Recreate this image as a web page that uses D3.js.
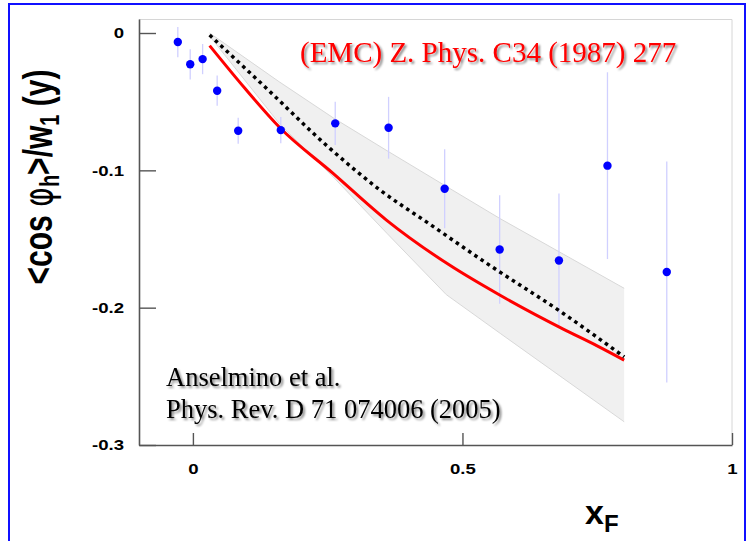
<!DOCTYPE html>
<html>
<head>
<meta charset="utf-8">
<script src="https://cdn.jsdelivr.net/npm/d3@7"></script>
<style>
  body { margin: 0; background: #fff; }
  svg { display: block; }
</style>
</head>
<body>
<svg id="drawing_region"></svg>
<script>
// EMC data points
const xF = [-0.028, -0.005, 0.018, 0.045, 0.084, 0.163, 0.264, 0.363, 0.467, 0.569, 0.679, 0.769, 0.879];
const cosVal = [-0.0066, -0.0228, -0.019, -0.042, -0.0712, -0.0707, -0.0658, -0.069, -0.1134, -0.1576, -0.1656, -0.0966, -0.174];
const cosErr = [0.011, 0.011, 0.011, 0.011, 0.0095, 0.0095, 0.0158, 0.0225, 0.0287, 0.0395, 0.0488, 0.068, 0.0805];

// model curve (red)
const redX = [0.031, 0.096, 0.161, 0.260, 0.359, 0.476, 0.569, 0.687, 0.749, 0.800];
const redY = [-0.0092, -0.0401, -0.0688, -0.1022, -0.1362, -0.1690, -0.1908, -0.2156, -0.2276, -0.2382];

// dotted curve
const dotX = [0.031, 0.130, 0.254, 0.347, 0.439, 0.545, 0.687, 0.800];
const dotY = [-0.0015, -0.0379, -0.0840, -0.1143, -0.1391, -0.1677, -0.2042, -0.2358];

// uncertainty band
const bandX = [0.031, 0.16, 0.26, 0.36, 0.47, 0.57, 0.80];
const bandHi = [0.0, -0.0355, -0.0617, -0.0857, -0.1117, -0.1352, -0.1859];
const bandLo = [-0.0022, -0.0658, -0.1047, -0.1459, -0.1905, -0.2187, -0.2831];

const xTicks = [0, 0.5, 1];
const yTicks = [0, -0.1, -0.2, -0.3];
const yTickLabels = ['0', '-0.1', '-0.2', '-0.3'];
const xTickLabels = ['0', '0.5', '1'];

var config = {
    width: 750,
    height: 541,
    margin: {top:19, right:18, bottom:96, left:139}
};

const svg = d3.select('#drawing_region')
    .attr('width', config.width)
    .attr('height', config.height);

const defs = svg.append('defs');
const shadow = defs.append('filter').attr('id', 'shadow')
    .attr('x', '-5%').attr('y', '-20%').attr('width', '115%').attr('height', '150%');
shadow.append('feDropShadow')
    .attr('dx', 2).attr('dy', 2).attr('stdDeviation', 1.3)
    .attr('flood-color', '#000').attr('flood-opacity', 0.45);

// outer blue frame
svg.append('rect')
    .attr('x', 9).attr('y', 4)
    .attr('width', 736).attr('height', 580)
    .attr('fill', 'none')
    .attr('stroke', '#1010ff')
    .attr('stroke-width', 2);

const inner_width = config.width - config.margin.left - config.margin.right;
const inner_height = config.height - config.margin.top - config.margin.bottom;

const chart = svg.append('g')
    .attr('transform', `translate(${config.margin.left}, ${config.margin.top})`);

const xscale = d3.scaleLinear().domain([-0.1, 1.0]).range([0, inner_width]);
const yscale = d3.scaleLinear().domain([-0.3, 0.0102]).range([inner_height, 0]);

// light frame top/right
chart.append('path')
    .attr('d', `M0,0.5H${inner_width}V${inner_height}`)
    .attr('fill', 'none')
    .attr('stroke', '#d6d6d6')
    .attr('stroke-width', 1);

// band
const band = bandX.map((x, i) => ({x: x, hi: bandHi[i], lo: bandLo[i]}));
chart.append('path')
    .datum(band)
    .attr('fill', '#f0f0f0')
    .attr('d', d3.area().x(d => xscale(d.x)).y0(d => yscale(d.lo)).y1(d => yscale(d.hi)));
['hi', 'lo'].forEach(k => {
    chart.append('path')
        .datum(band)
        .attr('fill', 'none')
        .attr('stroke', '#d8d8d8')
        .attr('stroke-width', 1)
        .attr('d', d3.line().x(d => xscale(d.x)).y(d => yscale(d[k])));
});

const points = xF.map((x, i) => ({x: x, y: cosVal[i], e: cosErr[i]}));

// error bars
chart.selectAll('line.err')
    .data(points)
    .join('line')
    .attr('class', 'err')
    .attr('x1', d => xscale(d.x)).attr('x2', d => xscale(d.x))
    .attr('y1', d => yscale(d.y + d.e)).attr('y2', d => yscale(d.y - d.e))
    .attr('stroke', '#d0d0ff')
    .attr('stroke-width', 1.3);

const line = d3.line().x(d => xscale(d[0])).y(d => yscale(d[1])).curve(d3.curveMonotoneX);

chart.append('path')
    .datum(redX.map((x, i) => [x, redY[i]]))
    .attr('fill', 'none')
    .attr('stroke', '#ff0000')
    .attr('stroke-width', 3)
    .attr('d', line);

chart.append('path')
    .datum(dotX.map((x, i) => [x, dotY[i]]))
    .attr('fill', 'none')
    .attr('stroke', '#000')
    .attr('stroke-width', 3.5)
    .attr('stroke-dasharray', '3.5,4')
    .attr('d', line);

chart.selectAll('circle')
    .data(points)
    .join('circle')
    .attr('cx', d => xscale(d.x))
    .attr('cy', d => yscale(d.y))
    .attr('r', 4.2)
    .attr('fill', '#0000ff');

// axes
const xaxis = d3.axisBottom(xscale)
    .tickValues(xTicks)
    .tickFormat((d, i) => xTickLabels[i])
    .tickSizeInner(-12)
    .tickSizeOuter(0)
    .tickPadding(18);
const yaxis = d3.axisLeft(yscale)
    .tickValues(yTicks)
    .tickFormat((d, i) => yTickLabels[i])
    .tickSizeInner(-17)
    .tickSizeOuter(0)
    .tickPadding(12.5);

const xaxis_group = chart.append('g')
    .attr('transform', `translate(0, ${inner_height})`)
    .call(xaxis);
const yaxis_group = chart.append('g')
    .call(yaxis);

[xaxis_group, yaxis_group].forEach(g => {
    g.select('.domain').attr('stroke', '#555').attr('stroke-width', 1.6);
    g.selectAll('.tick line').attr('stroke', '#555').attr('stroke-width', 1.4);
    g.selectAll('.tick text')
        .attr('fill', '#000')
        .attr('font-family', 'Liberation Sans, Arial, sans-serif')
        .attr('font-weight', 'bold')
        .attr('font-size', '15.5px')
        .attr('transform', 'scale(1.2,1)');
});

// axis titles
const ytitle = svg.append('text')
    .attr('transform', 'translate(38,177) rotate(-90) scale(1,1.35)')
    .attr('text-anchor', 'middle')
    .attr('dy', '0.35em')
    .attr('font-family', 'Liberation Sans, Arial, sans-serif')
    .attr('font-weight', 'bold')
    .attr('font-size', '30px')
    .attr('fill', '#000');
ytitle.append('tspan').text('<cos ');
ytitle.append('tspan').attr('font-weight', 'normal').attr('font-family', 'DejaVu Sans, sans-serif').text('\u03c6');
ytitle.append('tspan').attr('font-size', '20px').attr('dy', '5').text('h');
ytitle.append('tspan').attr('dy', '-5').text('>/w');
ytitle.append('tspan').attr('font-size', '20px').attr('dy', '5').text('1');
ytitle.append('tspan').attr('dy', '-5').text(' (y)');

const xtitle = svg.append('text')
    .attr('x', 585)
    .attr('y', 524)
    .attr('font-family', 'Liberation Sans, Arial, sans-serif')
    .attr('font-weight', 'bold')
    .attr('font-size', '34px')
    .attr('fill', '#000');
xtitle.append('tspan').text('x');
xtitle.append('tspan').attr('font-size', '24px').attr('dy', '8').text('F');

// annotations
svg.append('text')
    .attr('x', 300).attr('y', 61.5)
    .attr('font-family', 'Liberation Serif, Times New Roman, serif')
    .attr('font-size', '29px')
    .attr('fill', '#ff0000')
    .attr('filter', 'url(#shadow)')
    .text('(EMC) Z. Phys. C34 (1987) 277');

svg.append('text')
    .attr('x', 166).attr('y', 386)
    .attr('font-family', 'Liberation Serif, Times New Roman, serif')
    .attr('font-size', '26.5px')
    .attr('fill', '#000')
    .attr('filter', 'url(#shadow)')
    .text('Anselmino et al.');

svg.append('text')
    .attr('x', 166).attr('y', 418)
    .attr('font-family', 'Liberation Serif, Times New Roman, serif')
    .attr('font-size', '26.5px')
    .attr('fill', '#000')
    .attr('filter', 'url(#shadow)')
    .text('Phys. Rev. D 71 074006 (2005)');
</script>
</body>
</html>
